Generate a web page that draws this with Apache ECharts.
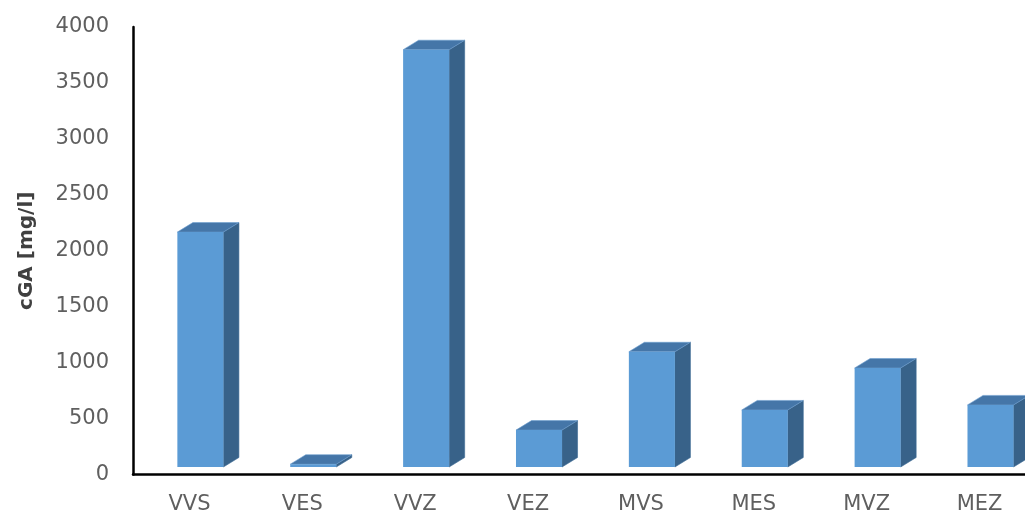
<!DOCTYPE html>
<html>
<head>
<meta charset="utf-8">
<style>
  html, body { margin: 0; padding: 0; background: #ffffff; }
  #chart { width: 1025px; height: 513px; }
</style>
<script src="https://cdn.jsdelivr.net/npm/echarts@6/dist/echarts.min.js"></script>
</head>
<body>
<div id="chart"></div>
<script>
// Sample codes and their cGA concentrations (mg/l)
const categories = ['VVS', 'VES', 'VVZ', 'VEZ', 'MVS', 'MES', 'MVZ', 'MEZ'];
const cgaValues = [2100, 25, 3730, 330, 1030, 510, 885, 555];
const yTicks = { min: 0, max: 4000, interval: 500 };

const chart = echarts.init(document.getElementById('chart'), null, { renderer: 'canvas' });

// Pseudo-3D column: front face, top face and right side face
function renderColumn(params, api) {
  const idx = api.value(0);
  const val = api.value(1);
  const base = api.coord([idx, 0]);
  const top = api.coord([idx, val]);
  const band = api.size([1, 0])[0];
  const lift = 7.5;                 // floor offset of the front face
  const x0 = base[0] - band * 0.107;
  const x1 = x0 + band * 0.408;
  const yb = base[1] - lift;
  const yt = top[1] - lift;
  const dx = 15.5, dy = 9.5;        // depth projection
  return {
    type: 'group',
    children: [
      {
        type: 'polygon',
        shape: { points: [[x1, yb], [x1 + dx, yb - dy], [x1 + dx, yt - dy], [x1, yt]] },
        style: { fill: '#386289', stroke: '#3d6994', lineWidth: 0.6 }
      },
      {
        type: 'polygon',
        shape: { points: [[x0, yt], [x0 + dx, yt - dy], [x1 + dx, yt - dy], [x1, yt]] },
        style: { fill: '#4576a8', stroke: '#6f9fd0', lineWidth: 0.6 }
      },
      {
        type: 'rect',
        shape: { x: x0, y: yt, width: x1 - x0, height: yb - yt },
        style: { fill: '#5b9bd5' }
      }
    ]
  };
}

chart.setOption({
  backgroundColor: '#ffffff',
  animation: false,
  grid: {
    left: 133, top: 27, width: 903, height: 447.5,
    containLabel: false, outerBoundsMode: 'none'
  },
  xAxis: {
    type: 'category',
    data: categories,
    axisTick: { show: false },
    axisLine: { show: true, lineStyle: { color: '#000000', width: 2.5 } },
    axisLabel: { color: '#5f5f5f', fontFamily: 'DejaVu Sans', fontSize: 21, margin: 20 },
    splitLine: { show: false }
  },
  yAxis: {
    type: 'value',
    min: yTicks.min,
    max: yTicks.max,
    interval: yTicks.interval,
    name: 'cGA [mg/l]',
    nameLocation: 'middle',
    nameGap: 96,
    nameRotate: 90,
    nameTextStyle: { color: '#404040', fontFamily: 'DejaVu Sans', fontWeight: 'bold', fontSize: 20 },
    axisLine: { show: true, lineStyle: { color: '#000000', width: 2.5 } },
    axisTick: { show: false },
    axisLabel: {
      color: '#5f5f5f', fontFamily: 'DejaVu Sans', fontSize: 21, margin: 24,
      padding: [6, 0, 0, 0],
      formatter: (v) => String(v)
    },
    splitLine: { show: false }
  },
  series: [{
    type: 'custom',
    renderItem: renderColumn,
    data: cgaValues.map((v, i) => [i, v]),
    encode: { x: 0, y: 1 },
    clip: false
  }]
});
</script>
</body>
</html>
